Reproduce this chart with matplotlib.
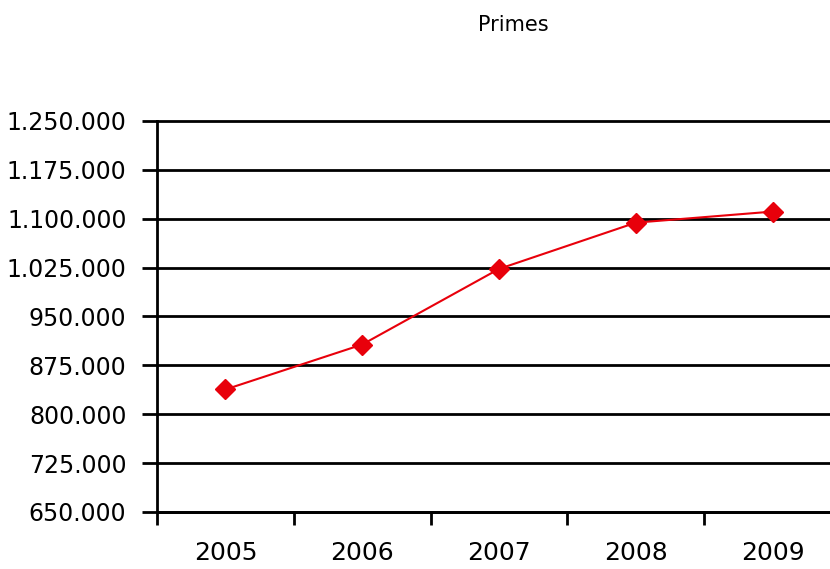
import matplotlib
matplotlib.use("Agg")
import matplotlib.pyplot as plt
from matplotlib.ticker import FuncFormatter

years = ["2005", "2006", "2007", "2008", "2009"]
primes = [838000, 907000, 1023000, 1094000, 1111000]
y_ticks = [650000, 725000, 800000, 875000, 950000, 1025000, 1100000, 1175000, 1250000]

plt.rcParams['font.family'] = ['DejaVu Sans']

fig = plt.figure(figsize=(8.3, 5.69), dpi=100)
# axes run past the right edge of the picture, as in the original crop
ax = fig.add_axes([157/830, 1 - 512/569, (841 - 157)/830, (512 - 121)/569])

x = range(len(years))
ax.plot(x, primes, color='#e8000b', lw=1.5, marker='D', ms=10, mec='#e8000b', mfc='#e8000b', zorder=3)

ax.set_xlim(-0.5, len(years) - 0.5)
ax.set_ylim(650000, 1250000)
ax.set_yticks(y_ticks)
ax.yaxis.set_major_formatter(FuncFormatter(lambda v, p: f"{int(v):,}".replace(",", ".")))
ax.set_xticks([i - 0.5 for i in range(len(years) + 1)], minor=False)
ax.set_xticklabels([])
ax.set_xticks(list(x), minor=True)
ax.set_xticklabels(years, minor=True)
ax.tick_params(axis='x', which='minor', length=0, pad=21, labelsize=18)
ax.tick_params(axis='x', which='major', length=9, width=2, direction='out')
ax.tick_params(axis='y', length=11, width=2, direction='out', labelsize=17, pad=11)

ax.grid(axis='y', color='black', lw=2)
for gl in ax.get_ygridlines():
    gl.set_clip_on(False)
ax.set_axisbelow(True)
for s in ['top', 'right']:
    ax.spines[s].set_visible(False)
for s in ['left', 'bottom']:
    ax.spines[s].set_linewidth(2)

fig.text(513/830, 1 - 25/569, "Primes", ha='center', va='center', fontsize=15)

fig.savefig("out.png", dpi=100)
